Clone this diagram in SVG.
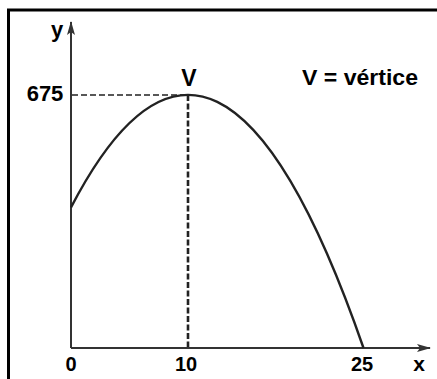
<svg xmlns="http://www.w3.org/2000/svg" width="437" height="379" viewBox="0 0 437 379">
<style>
.t{font-family:"Liberation Sans",Arial,sans-serif;font-weight:bold;fill:#000}
.ax{stroke:#333;stroke-width:2;fill:none}
.dash{stroke:#222;fill:none}
</style>
<defs>
<marker id="ah" viewBox="0 0 14 8" refX="13" refY="4" markerWidth="14" markerHeight="8" markerUnits="userSpaceOnUse" orient="auto">
<path d="M0,0 L14,4 L0,8 L3,4 Z" fill="#333"/>
</marker>
</defs>
<rect width="437" height="379" fill="#fff"/>
<path d="M8.5,379 L8.5,10 L437,10" stroke="#000" stroke-width="3" fill="none"/>
<g id="connectors">
<line class="ax" x1="71" y1="348" x2="71" y2="22" marker-end="url(#ah)"/>
<line class="ax" x1="71" y1="348" x2="430" y2="348" marker-end="url(#ah)"/>
<line class="dash" x1="72" y1="95" x2="188" y2="95" stroke-width="1.6" stroke-dasharray="6,3"/>
<line class="dash" x1="188" y1="95" x2="188" y2="347" stroke-width="2.6" stroke-dasharray="6,2.5"/>
<path d="M71,207.4 Q217.25,-73.9 363.5,348" stroke="#222" stroke-width="2.4" fill="none"/>
</g>
<g id="labels">
<text class="t" x="57" y="37" font-size="22" text-anchor="middle">y</text>
<text class="t" x="45" y="101" font-size="22" text-anchor="middle">675</text>
<text class="t" x="189" y="86" font-size="23" text-anchor="middle">V</text>
<text class="t" x="302" y="85" font-size="22" textLength="116" lengthAdjust="spacingAndGlyphs">V = vértice</text>
<text class="t" x="71" y="371" font-size="20" text-anchor="middle">0</text>
<text class="t" x="186" y="371" font-size="20" text-anchor="middle">10</text>
<text class="t" x="362" y="371" font-size="20" text-anchor="middle">25</text>
<text class="t" x="419" y="371" font-size="21" text-anchor="middle">x</text>
</g>
</svg>
